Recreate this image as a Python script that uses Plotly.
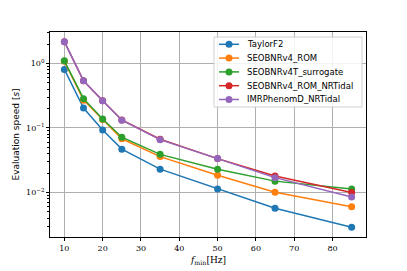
import plotly.graph_objects as go

f_min = [10, 15, 20, 25, 35, 50, 65, 85]
taylorf2 = [0.81, 0.204, 0.093, 0.047, 0.023, 0.0113, 0.0057, 0.0029]
seobnrv4_rom = [1.08, 0.27, 0.135, 0.068, 0.036, 0.0185, 0.0101, 0.0060]
seobnrv4t_surrogate = [1.1, 0.285, 0.138, 0.072, 0.039, 0.023, 0.015, 0.0113]
seobnrv4_rom_nrtidal = [2.18, 0.54, 0.265, 0.133, 0.067, 0.0335, 0.018, 0.0100]
imrphenomd_nrtidal = [2.18, 0.54, 0.265, 0.132, 0.066, 0.0335, 0.017, 0.0085]

names = ["TaylorF2", "SEOBNRv4_ROM", "SEOBNRv4T_surrogate",
         "SEOBNRv4_ROM_NRTidal", "IMRPhenomD_NRTidal"]
series = [taylorf2, seobnrv4_rom, seobnrv4t_surrogate,
          seobnrv4_rom_nrtidal, imrphenomd_nrtidal]
colors = ["#1f77b4", "#ff7f0e", "#2ca02c", "#d62728", "#9467bd"]

# the page body has an 8px default margin, so the figure is offset by 8px
OFF = 8
W, H = 399, 263
ML, MT = 50 - OFF, 32 - OFF
MR = W - (366 - OFF)
MB = H - (237 - OFF)
PW, PH = W - ML - MR, H - MT - MB


def px2paper(x, y):
    """page pixel -> paper coordinates"""
    return ((x - OFF) - ML) / PW, (H - MB - (y - OFF)) / PH


fig = go.Figure()
for n, s, c in zip(names, series, colors):
    fig.add_trace(go.Scatter(x=f_min, y=s, name=n, mode="lines+markers",
                             line=dict(color=c, width=1.5),
                             marker=dict(color=c, size=7), showlegend=False))

# custom compact legend (matplotlib style)
shapes = []
annotations = []
bx0, by0 = px2paper(214, 37)
bx1, by1 = px2paper(362, 107)
shapes.append(dict(type="rect", xref="paper", yref="paper", x0=bx0, x1=bx1, y0=by1, y1=by0,
                   line=dict(color="#d0d0d0", width=1), fillcolor="rgba(255,255,255,0.85)",
                   layer="above"))
for i, (n, c) in enumerate(zip(names, colors)):
    yy = 44.3 + i * 13.8
    lx0, ly = px2paper(219, yy)
    lx1, _ = px2paper(239, yy)
    mx, _ = px2paper(229, yy)
    tx, _ = px2paper(245, yy)
    shapes.append(dict(type="line", xref="paper", yref="paper", x0=lx0, x1=lx1, y0=ly, y1=ly,
                       line=dict(color=c, width=1.5), layer="above"))
    shapes.append(dict(type="circle", xref="paper", yref="paper", xsizemode="pixel",
                       ysizemode="pixel", xanchor=mx, yanchor=ly, x0=-3.5, x1=3.5,
                       y0=-3.5, y1=3.5, fillcolor=c, line=dict(color=c, width=0),
                       layer="above"))
    annotations.append(dict(text=n, xref="paper", yref="paper", x=tx, y=ly,
                            xanchor="left", yanchor="middle", showarrow=False,
                            font=dict(family="DejaVu Sans", size=8.5, color="black")))

# axis titles placed like matplotlib's
xtx, xty = px2paper(208, 260.5)
annotations.append(dict(text="<i>f</i><sub>min</sub>[Hz]", xref="paper", yref="paper",
                        x=xtx, y=xty, xanchor="center", yanchor="middle", showarrow=False,
                        font=dict(family="DejaVu Serif", size=9, color="black")))
ytx, yty = px2paper(15, 134.5)
annotations.append(dict(text="Evaluation speed [<i>s</i>]", xref="paper", yref="paper",
                        x=ytx, y=yty, xanchor="center", yanchor="middle", showarrow=False,
                        textangle=-90,
                        font=dict(family="DejaVu Sans", size=9, color="black")))

serif = "DejaVu Serif"
fig.update_layout(
    width=W, height=H,
    margin=dict(l=ML, r=MR, t=MT, b=MB),
    plot_bgcolor="white", paper_bgcolor="white",
    showlegend=False,
    shapes=shapes, annotations=annotations,
    xaxis=dict(range=[6.25, 88.75], tickvals=[10, 20, 30, 40, 50, 60, 70, 80],
               ticks="outside", ticklen=3, tickcolor="black", automargin=False,
               showgrid=True, gridcolor="#b0b0b0", gridwidth=0.8,
               showline=True, linecolor="black", linewidth=0.8, mirror=True,
               zeroline=False,
               tickfont=dict(family=serif, size=8, color="black")),
    yaxis=dict(type="log", range=[-2.69, 0.488],
               tickvals=[0.01, 0.1, 1],
               ticktext=["10<sup>−2</sup>", "10<sup>−1</sup>", "10<sup>0</sup>"],
               ticks="outside", ticklen=3, tickcolor="black", automargin=False,
               minor=dict(ticks="outside", ticklen=2, tickcolor="black", showgrid=False,
                          tickvals=[v * 10 ** e for e in (-3, -2, -1, 0) for v in range(2, 10)]),
               showgrid=True, gridcolor="#b0b0b0", gridwidth=0.8,
               showline=True, linecolor="black", linewidth=0.8, mirror=True,
               zeroline=False,
               tickfont=dict(family=serif, size=8, color="black")),
)
fig.write_html("out.html")
